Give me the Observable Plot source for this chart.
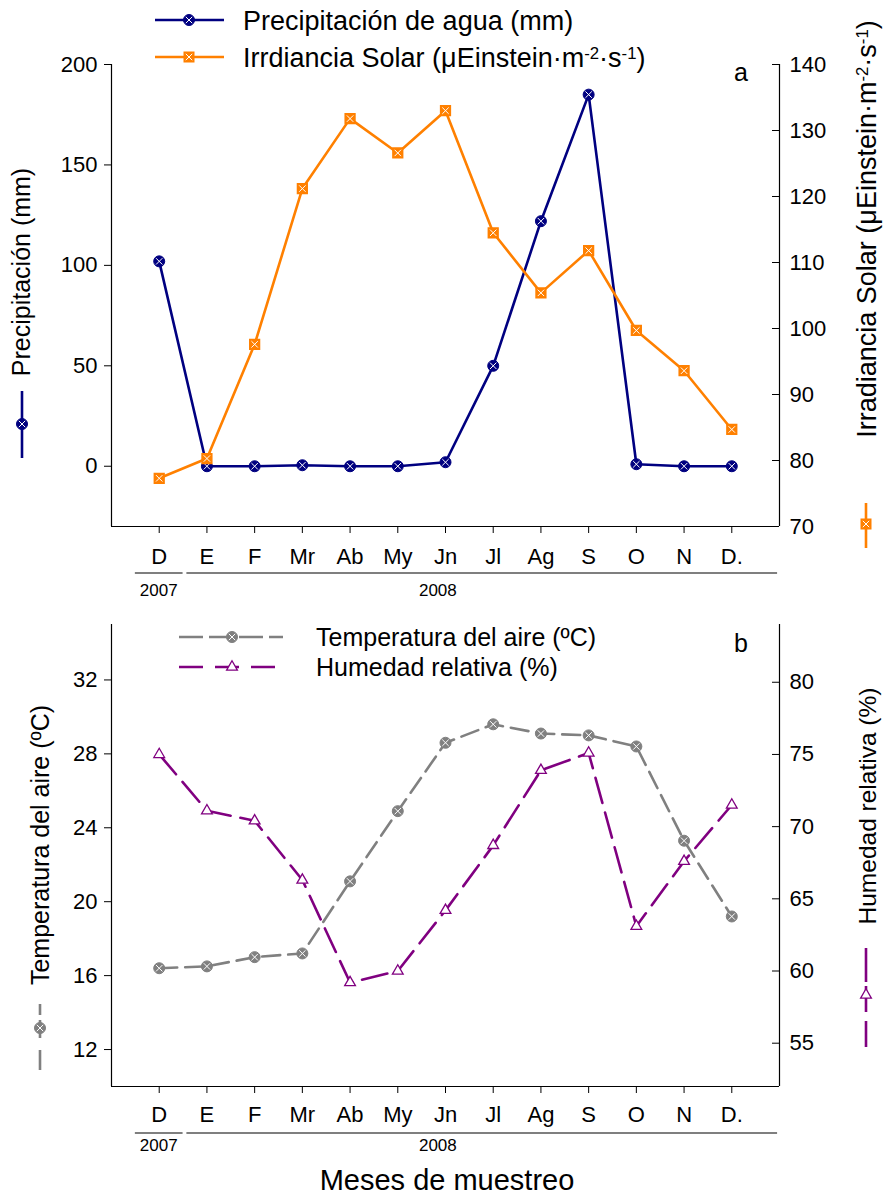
<!DOCTYPE html>
<html><head><meta charset="utf-8">
<script src="https://cdn.jsdelivr.net/npm/d3@7"></script>
<script src="https://cdn.jsdelivr.net/npm/@observablehq/plot@0.6"></script>
<style>
body{margin:0;background:#fff;font-family:"Liberation Sans",Arial,sans-serif;}
#wrap{position:relative;width:886px;height:1197px;overflow:hidden;}
#wrap svg{position:absolute;left:0;}
</style></head><body><div id="wrap"></div>
<script>
// ---- data ----
const months = ["D","E","F","Mr","Ab","My","Jn","Jl","Ag","S","O","N","D."];
const precipitacion = [102,0,0,0.5,0,0,2,50,122,185,1,0,0];
const irradiancia = [77.3,80.3,97.6,121.2,131.8,126.6,133.0,114.5,105.4,111.8,99.7,93.6,84.7];
const temperatura = [16.4,16.5,17.0,17.2,21.1,24.9,28.6,29.6,29.1,29.0,28.4,23.3,19.2];
const humedad = [75.0,71.1,70.4,66.3,59.2,60.0,64.2,68.7,73.9,75.1,63.1,67.6,71.5];
const precipTicks = [0,50,100,150,200];
const irrTicks = [70,80,90,100,110,120,130,140];
const tempTicks = [12,16,20,24,28,32];
const humTicks = [55,60,65,70,75,80];
const yearLabels = ["2007","2008"];

const W = 886, H = 1197;
const font = "'Liberation Sans', Arial, sans-serif";
const NAVY="#000080", ORANGE="#ff8000", GRAY="#808080", PURPLE="#800080";
const wrap = document.getElementById("wrap");

const irrToLeft = d3.scaleLinear().domain([70,140]).range([-30,200]);
const humToLeft = d3.scaleLinear().domain([52,84]).range([10,35]);

const tableA = months.map((m,i)=>({i, m, precip: precipitacion[i], irr: irrToLeft(irradiancia[i])}));
const tableB = months.map((m,i)=>({i, m, temp: temperatura[i], hum: humToLeft(humedad[i])}));

function panel({height, marginTop, marginBottom, yDomain, leftTicks, rightTicks, toLeft, tickPad, marks}) {
  return Plot.plot({
    width: W, height, marginLeft:111, marginRight:107, marginTop, marginBottom,
    style:{fontFamily:font, fontSize:"22px", color:"#000", background:"transparent", overflow:"visible"},
    x:{type:"linear", domain:[-1,13], label:null},
    y:{domain:yDomain, label:null},
    marks:[
      Plot.ruleX([-1,13], {stroke:"#000", strokeWidth:1.2}),
      Plot.ruleY([yDomain[0]], {stroke:"#000", strokeWidth:1.2}),
      Plot.axisY(leftTicks, {anchor:"left", tickSize:7, tickPadding:7, label:null, fontSize:22}),
      Plot.axisY(rightTicks.map(toLeft), {anchor:"right", tickSize:0, tickPadding:10, tickFormat:d=>Math.round(toLeft.invert(d)), label:null, fontSize:22}),
      Plot.tickY(rightTicks.map(toLeft), {y:d=>d, insetLeft:661, stroke:"#000"}),
      Plot.axisX(d3.range(months.length), {anchor:"bottom", tickSize:7, tickPadding:tickPad, tickFormat:i=>months[i], label:null, fontSize:22}),
      ...marks
    ]
  });
}

const A = panel({
  height:600, marginTop:64, marginBottom:74, yDomain:[-30,200],
  leftTicks:precipTicks, rightTicks:irrTicks, toLeft:irrToLeft, tickPad:15,
  marks:[
    Plot.line(tableA, {x:"i", y:"precip", stroke:NAVY, strokeWidth:2.6}),
    Plot.dot(tableA, {x:"i", y:"precip", r:5.5, fill:NAVY, stroke:NAVY, strokeWidth:1}),
    Plot.dot(tableA, {x:"i", y:"precip", symbol:"times", r:3, stroke:"white", strokeWidth:1}),
    Plot.line(tableA, {x:"i", y:"irr", stroke:ORANGE, strokeWidth:2.6}),
    Plot.dot(tableA, {x:"i", y:"irr", symbol:"square", r:5.5, fill:ORANGE, stroke:ORANGE}),
    Plot.dot(tableA, {x:"i", y:"irr", symbol:"times", r:3, stroke:"white", strokeWidth:1})
  ]
});
A.style.top = "0px";
wrap.appendChild(A);

const B = panel({
  height:597, marginTop:24, marginBottom:111, yDomain:[10,35],
  leftTicks:tempTicks, rightTicks:humTicks, toLeft:humToLeft, tickPad:13,
  marks:[
    Plot.line(tableB, {x:"i", y:"temp", stroke:GRAY, strokeWidth:2.6, strokeDasharray:"18,8"}),
    Plot.dot(tableB, {x:"i", y:"temp", r:5.5, fill:GRAY, stroke:GRAY, strokeWidth:1}),
    Plot.dot(tableB, {x:"i", y:"temp", symbol:"times", r:3, stroke:"white", strokeWidth:1}),
    Plot.line(tableB, {x:"i", y:"hum", stroke:PURPLE, strokeWidth:2.6, strokeDasharray:"26,10"}),
    Plot.dot(tableB, {x:"i", y:"hum", symbol:"triangle", r:4, fill:"white", stroke:PURPLE, strokeWidth:1.3})
  ]
});
B.style.top = "600px";
wrap.appendChild(B);

// ---- overlay: legends, titles, year annotations ----
const ov = d3.select(wrap).append("svg").attr("width",W).attr("height",H)
  .style("top","0px").style("font-family",font).style("pointer-events","none");

function marker(x, y, type, color) {
  if (type === "circle") {
    ov.append("circle").attr("cx",x).attr("cy",y).attr("r",5.5).attr("fill",color).attr("stroke",color);
    ov.append("path").attr("transform",`translate(${x},${y})`).attr("d",d3.symbol(d3.symbolTimes, Math.PI*9)()).attr("stroke","white").attr("fill","none");
  } else if (type === "square") {
    ov.append("rect").attr("x",x-5).attr("y",y-5).attr("width",10).attr("height",10).attr("fill",color).attr("stroke",color);
    ov.append("path").attr("transform",`translate(${x},${y})`).attr("d",d3.symbol(d3.symbolTimes, Math.PI*9)()).attr("stroke","white").attr("fill","none");
  } else {
    ov.append("path").attr("transform",`translate(${x},${y})`).attr("d",d3.symbol(d3.symbolTriangle, Math.PI*16)()).attr("fill","white").attr("stroke",color).attr("stroke-width",1.3);
  }
}
function seg(x1,y1,x2,y2,color) {
  ov.append("line").attr("x1",x1).attr("y1",y1).attr("x2",x2).attr("y2",y2).attr("stroke",color).attr("stroke-width",2.6);
}
function supText(sel, parts) {
  let prevSup = false;
  parts.forEach(([s, sup]) => {
    if (sup) { sel.append("tspan").attr("font-size","0.62em").attr("dy","-0.5em").text(s); prevSup = true; }
    else { const t = sel.append("tspan").text(s); if (prevSup) t.attr("dy","0.31em"); prevSup = false; }
  });
}
function label(x, y, text, size, opts={}) {
  const t = ov.append("text").attr("x",x).attr("y",y).attr("font-size",size).attr("fill","#000");
  if (opts.anchor) t.attr("text-anchor", opts.anchor);
  if (opts.rotate) t.attr("transform", `rotate(-90,${x},${y})`);
  if (Array.isArray(text)) supText(t, text); else t.text(text);
  return t;
}

// panel a legend
seg(155,20,224,20,NAVY); marker(189,20,"circle",NAVY);
label(243,30,"Precipitación de agua (mm)",27);
seg(155,57,224,57,ORANGE); marker(189,57,"square",ORANGE);
label(243,67,[["Irrdiancia Solar (μEinstein·m"],["-2",1],["·s"],["-1",1],[")"]],27);
label(741,81,"a",25,{anchor:"middle"});

// panel a axis titles
label(30,272,"Precipitación (mm)",25,{anchor:"middle",rotate:true});
seg(22,391,22,458,NAVY); marker(22,424,"circle",NAVY);
label(876,229,[["Irradiancia Solar (μEinstein·m"],["-2",1],["·s"],["-1",1],[")"]],27,{anchor:"middle",rotate:true});
seg(866,503,866,548,ORANGE); marker(866,524,"square",ORANGE);

// panel b legend
function dashedRow(y, color, dash, type) {
  ov.append("line").attr("x1",179).attr("y1",y).attr("x2",283).attr("y2",y).attr("stroke",color).attr("stroke-width",2.6).attr("stroke-dasharray",dash);
  marker(232,y,type,color);
}
dashedRow(637, GRAY, "24,6", "circle");
label(316,646,"Temperatura del aire (ºC)",25);
dashedRow(667, PURPLE, "24,12", "triangle");
label(316,676,"Humedad relativa (%)",25);
label(741,652,"b",25,{anchor:"middle"});

// panel b axis titles
label(49,845,"Temperatura del aire (ºC)",25,{anchor:"middle",rotate:true});
seg(40,1004,40,1015,GRAY); seg(40,1020,40,1038,GRAY); seg(40,1050,40,1070,GRAY); marker(40,1028,"circle",GRAY);
label(876,806,"Humedad relativa (%)",24.5,{anchor:"middle",rotate:true});
seg(866,948,866,982,PURPLE); seg(866,986,866,1012,PURPLE); seg(866,1021,866,1047,PURPLE); marker(866,995,"triangle",PURPLE);

// year annotations under the x axes
function years(plot, top, lineY, textY) {
  const xs = plot.scale("x");
  const p = v => xs.apply(v);
  ov.append("line").attr("x1",p(-0.5)).attr("x2",p(0.5)).attr("y1",top+lineY).attr("y2",top+lineY).attr("stroke","#000").attr("stroke-width",1.2);
  ov.append("line").attr("x1",p(0.58)).attr("x2",p(12.96)).attr("y1",top+lineY).attr("y2",top+lineY).attr("stroke","#000").attr("stroke-width",1.2);
  label(p(0),top+textY,yearLabels[0],17,{anchor:"middle"});
  label(p(5.85),top+textY,yearLabels[1],17,{anchor:"middle"});
}
years(A, 0, 573, 596);
years(B, 600, 533, 551);

label(447,1190,"Meses de muestreo",29,{anchor:"middle"});
</script></body></html>
